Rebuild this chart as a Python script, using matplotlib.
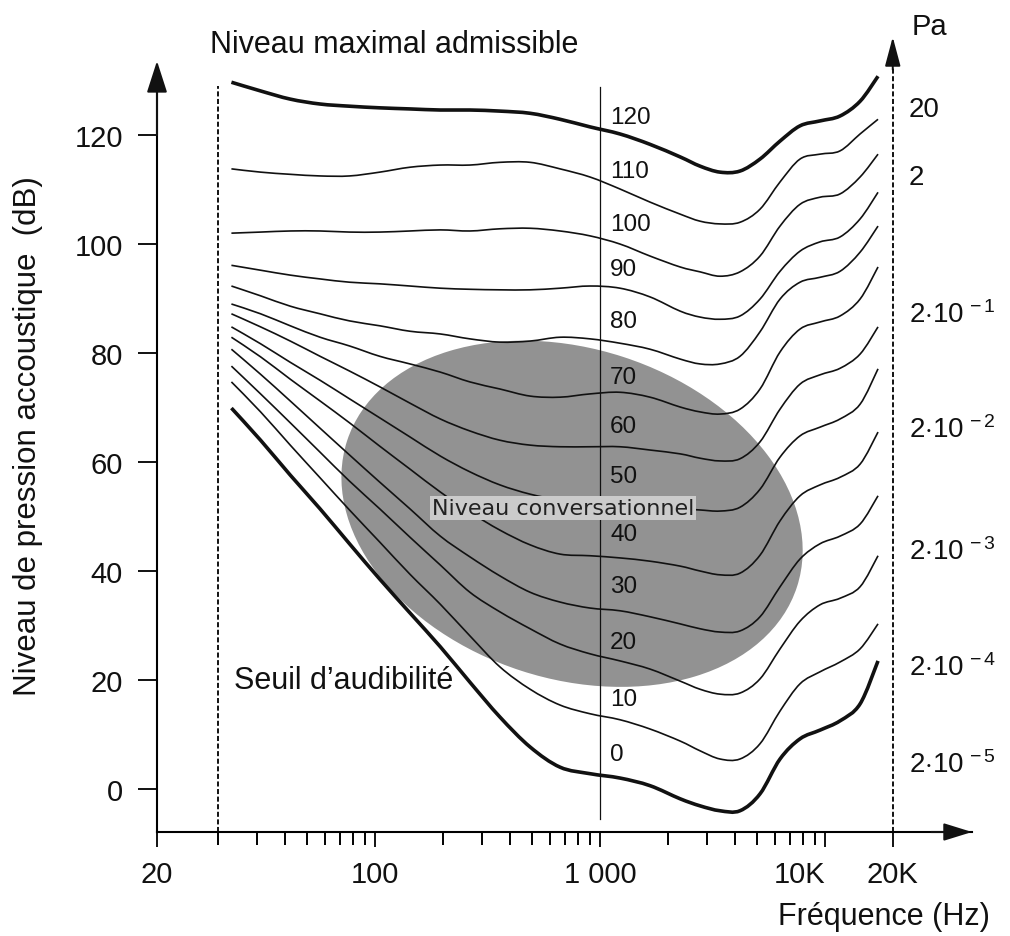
import numpy as np
import matplotlib
matplotlib.use("Agg")
import matplotlib.pyplot as plt
from matplotlib.patches import Ellipse, PathPatch
from matplotlib.path import Path
from matplotlib.transforms import IdentityTransform

plt.rcParams['font.family'] = ['Liberation Sans', 'DejaVu Sans']
plt.rcParams['mathtext.fontset'] = 'custom'
plt.rcParams['mathtext.rm'] = 'Liberation Sans'
plt.rcParams['mathtext.it'] = 'Liberation Sans'

# frequencies (Hz) where the curves were read
freqs = [23, 31, 42, 57, 77, 105, 143, 195, 264, 359, 489, 664, 903, 1227,
         1668, 2268, 2783, 3412, 4189, 5141, 6310, 7743, 9502, 11660, 14310, 17200]

# sound pressure level (dB) of each equal-loudness curve
spl_120 = [129.7, 128.1, 126.6, 125.7, 125.3, 125.0, 124.8, 124.6, 124.6, 124.4, 124.0, 122.9, 121.5,
           120.2, 118.3, 116.0, 114.3, 113.2, 113.4, 115.6, 118.9, 121.7, 122.6, 123.5, 126.2, 130.8]
spl_110 = [113.8, 113.2, 112.8, 112.5, 112.5, 113.2, 114.1, 114.5, 114.5, 115.0, 115.0, 113.8, 112.3,
           110.1, 107.7, 105.5, 104.2, 103.7, 104.0, 106.4, 111.4, 115.6, 116.5, 117.1, 120.2, 122.9]
spl_100 = [102.0, 102.2, 102.4, 102.4, 102.2, 102.2, 102.4, 102.6, 102.4, 102.8, 102.9, 102.4, 101.5,
           100.0, 97.8, 95.8, 94.9, 94.1, 94.9, 97.8, 103.3, 107.3, 108.6, 109.2, 112.3, 116.5]
spl_90 = [96.1, 95.2, 94.3, 93.6, 93.0, 92.7, 92.3, 91.9, 91.7, 91.6, 91.6, 91.9, 92.3,
          91.9, 90.3, 87.7, 86.6, 86.2, 86.8, 89.9, 95.0, 98.7, 100.4, 101.3, 104.6, 109.5]
spl_80 = [92.3, 90.5, 88.6, 87.2, 85.9, 85.0, 84.0, 83.5, 82.6, 82.0, 82.2, 82.9, 82.6,
          81.8, 80.7, 78.9, 78.0, 78.0, 79.4, 83.9, 89.9, 93.0, 93.9, 95.0, 98.5, 103.3]
spl_70 = [89.0, 87.2, 85.0, 82.9, 81.3, 79.4, 78.0, 76.5, 74.7, 73.4, 72.1, 71.9, 72.5,
          72.8, 71.9, 70.1, 69.2, 68.8, 69.7, 73.4, 80.2, 84.4, 85.7, 86.8, 89.9, 95.8]
spl_60 = [87.2, 84.8, 82.2, 79.4, 76.7, 73.8, 70.8, 67.9, 65.7, 64.0, 63.1, 62.8, 62.8,
          62.8, 62.2, 61.5, 60.7, 60.2, 60.6, 63.7, 69.7, 74.3, 76.0, 77.2, 79.8, 84.8]
spl_50 = [84.8, 81.7, 78.3, 75.0, 71.6, 68.1, 64.6, 61.1, 58.2, 55.8, 54.1, 53.0, 52.3,
          51.9, 51.6, 51.4, 51.2, 51.0, 51.7, 55.0, 60.9, 64.8, 66.4, 67.9, 70.6, 77.1]
spl_40 = [82.9, 79.3, 75.2, 71.2, 67.2, 62.9, 58.7, 54.5, 50.8, 47.5, 44.8, 43.1, 42.8,
          42.4, 41.8, 40.9, 40.0, 39.3, 39.6, 42.9, 49.2, 53.8, 55.8, 57.2, 59.6, 65.5]
spl_30 = [80.7, 76.1, 71.2, 66.2, 61.3, 56.3, 51.4, 46.4, 42.6, 39.1, 36.1, 34.3, 33.2,
          32.7, 31.6, 30.3, 29.4, 28.8, 29.0, 31.6, 37.1, 42.2, 45.0, 46.4, 48.6, 53.8]
spl_20 = [77.6, 72.5, 67.2, 61.8, 56.5, 51.4, 46.2, 41.1, 36.1, 32.5, 29.4, 26.6, 24.8,
          23.5, 22.0, 19.8, 18.3, 17.4, 17.6, 20.2, 25.7, 30.8, 33.8, 35.0, 37.1, 42.8]
spl_10 = [74.7, 69.2, 63.1, 57.1, 51.2, 45.3, 39.4, 33.9, 28.1, 22.4, 18.3, 15.4, 13.8,
          12.7, 11.0, 8.8, 7.0, 5.5, 5.5, 8.3, 14.3, 19.3, 21.5, 23.3, 25.7, 30.3]
spl_0 = [69.9, 64.0, 57.6, 51.4, 45.0, 38.5, 32.3, 26.1, 19.6, 13.2, 7.7, 4.0, 2.8,
         2.0, 0.6, -1.8, -3.1, -4.0, -4.0, -0.9, 5.5, 9.2, 10.8, 12.5, 15.6, 23.5]

phons = [120, 110, 100, 90, 80, 70, 60, 50, 40, 30, 20, 10, 0]
curves = [spl_120, spl_110, spl_100, spl_90, spl_80, spl_70, spl_60,
          spl_50, spl_40, spl_30, spl_20, spl_10, spl_0]
label_db = [123.3, 113.4, 103.7, 95.4, 85.9, 75.6, 66.6, 57.4, 46.8, 37.2, 26.9, 16.5, 6.4]

pa_labels = ['20', '2', r'$2{\cdot}10^{\,-1}$', r'$2{\cdot}10^{\,-2}$', r'$2{\cdot}10^{\,-3}$',
             r'$2{\cdot}10^{\,-4}$', r'$2{\cdot}10^{\,-5}$']
pa_db = [124.8, 112.3, 87.2, 66.1, 43.7, 22.4, 4.6]

xtick_pos = [10.74, 100, 1000, 10000, 20000]
xtick_lab = ['20', '100', '1 000', '10K', '20K']
xminor = [20, 30, 40, 50, 60, 70, 80, 90, 200, 300, 400, 500, 600, 700, 800, 900,
          2000, 3000, 4000, 5000, 6000, 7000, 8000, 9000]

ink = '#111111'


def smooth_path(xs, ys):
    '''
    Catmull-Rom curve through the read points, built in (log f, dB) space so that it
    stays smooth on the log axis. It passes through every point given.
    '''
    lx = np.log10(np.asarray(xs, float))
    y = np.asarray(ys, float)
    px = np.concatenate([[lx[0]], lx, [lx[-1]]])
    py = np.concatenate([[y[0]], y, [y[-1]]])
    verts = [(lx[0], y[0])]
    codes = [Path.MOVETO]
    for i in range(1, len(px) - 2):
        c1 = (px[i] + (px[i + 1] - px[i - 1]) / 6, py[i] + (py[i + 1] - py[i - 1]) / 6)
        c2 = (px[i + 1] - (px[i + 2] - px[i]) / 6, py[i + 1] - (py[i + 2] - py[i]) / 6)
        verts += [c1, c2, (px[i + 1], py[i + 1])]
        codes += [Path.CURVE4] * 3
    verts = np.array(verts)
    verts[:, 0] = 10 ** verts[:, 0]
    return Path(verts, codes)


fig = plt.figure(figsize=(10.1, 9.37), dpi=100)
ax = fig.add_axes([157 / 1010, 1 - 833 / 937, (972 - 157) / 1010, (833 - 38) / 937])
ax.set_xscale('log')
ax.set_xlim(10.74, 45000)
ax.set_ylim(-7.9, 138.0)

for side in ['top', 'right']:
    ax.spines[side].set_visible(False)
ax.spines['left'].set_bounds(-7.9, 128)
ax.spines['left'].set_linewidth(1.5)
ax.spines['bottom'].set_linewidth(1.5)

ax.set_yticks([0, 20, 40, 60, 80, 100, 120])
ax.set_xticks(xtick_pos)
ax.set_xticklabels(xtick_lab)
ax.set_xticks(xminor, minor=True)
ax.xaxis.set_minor_formatter(plt.NullFormatter())
ax.tick_params(axis='y', direction='out', length=13.5, width=1.4, pad=11, labelsize=21, colors=ink)
ax.tick_params(axis='x', which='major', direction='out', length=11, width=1.4, pad=9,
               labelsize=21, colors=ink)
ax.tick_params(axis='x', which='minor', direction='out', length=9.5, width=1.4)
ax.get_xticklabels()[3].set_ha('right')

# grey "conversation" zone
cx, cy = ax.transData.transform((751, 50.5))
blob = Ellipse((cx, cy), 473, 330, angle=-18, transform=IdentityTransform(),
               facecolor='#929292', edgecolor='none', zorder=1)
ax.add_patch(blob)

# equal-loudness curves
for phon, spl in zip(phons, curves):
    lw = 2.6 if phon in (0, 120) else 1.2
    ax.add_patch(PathPatch(smooth_path(freqs, spl), fill=False, edgecolor=ink, lw=lw,
                           zorder=3, capstyle='butt'))

for phon, y in zip(phons, label_db):
    ax.text(1108, y, str(phon), fontsize=17.5, ha='left', va='center', color=ink, zorder=4)

# reference lines
ax.plot([1000, 1000], [-5.5, 128.8], color=ink, lw=0.9, zorder=2)
ax.plot([20, 20], [-7.9, 129], color=ink, lw=1.4, linestyle=(0, (2.6, 1.3)), zorder=2)
ax.plot([20000, 20000], [-7.9, 133], color=ink, lw=1.4, linestyle=(0, (2.6, 1.3)), zorder=2, clip_on=False)

# arrows at the ends of the axes
ax.annotate('', xy=(0, 133.6), xytext=(0, 120), xycoords=('axes fraction', 'data'),
            arrowprops=dict(arrowstyle='-|>,head_length=1.4,head_width=0.45', mutation_scale=14,
                            color=ink, lw=1.5, shrinkA=0, shrinkB=0))
ax.annotate('', xy=(1, 0), xytext=(0.95, 0), xycoords='axes fraction',
            arrowprops=dict(arrowstyle='-|>,head_length=1.45,head_width=0.45', mutation_scale=12,
                            color=ink, lw=1.5, shrinkA=0, shrinkB=0))
ax.annotate('', xy=(20000, 138), xytext=(20000, 132),
            arrowprops=dict(arrowstyle='-|>,head_length=1.5,head_width=0.4', mutation_scale=12,
                            color=ink, lw=1.4, shrinkA=0, shrinkB=0), annotation_clip=False)

# pressure scale in Pa
for lab, y in zip(pa_labels, pa_db):
    ax.text(23600, y, lab, fontsize=20, ha='left', va='center', color=ink)
fig.text(912 / 1010, 1 - 27 / 937, 'Pa', fontsize=21, ha='left', va='center', color=ink)

ax.text(685, 51.6, 'Niveau conversationnel', fontsize=16, family='DejaVu Sans',
        ha='center', va='center', color='#222222', zorder=5,
        bbox=dict(boxstyle='square,pad=0.1', fc='#cbcbcb', ec='none'))
ax.text(23.5, 20.0, 'Seuil d\u2019audibilité', fontsize=22, ha='left', va='center', color=ink, zorder=4)

fig.text(210 / 1010, 1 - 45 / 937, 'Niveau maximal admissible', fontsize=22,
         ha='left', va='center', color=ink)
fig.text(28 / 1010, 1 - 436 / 937, 'Niveau de pression accoustique  (dB)', fontsize=22.5,
         rotation=90, ha='center', va='center', color=ink)
fig.text(990 / 1010, 1 - 917 / 937, 'Fréquence (Hz)', fontsize=22,
         ha='right', va='center', color=ink)

fig.savefig('out.png', dpi=100)
